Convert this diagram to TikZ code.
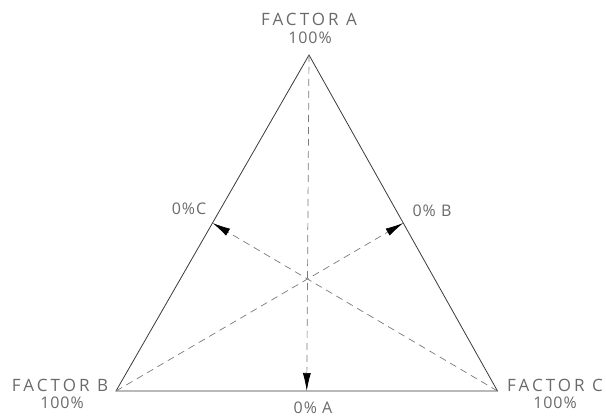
\documentclass[tikz,border=0pt]{standalone}
\usepackage{fontspec}
\setmainfont{Open Sans}
\usetikzlibrary{calc,arrows.meta}
\definecolor{txtgray}{HTML}{6A6A6A}
\definecolor{linegray}{HTML}{3A3A3A}
\definecolor{dashgray}{HTML}{7A7A7A}
\tikzset{
  side/.style={draw=linegray, line width=0.8pt},
  median/.style={draw=dashgray, line width=0.7pt, dash pattern=on 7pt off 5pt},
  medarrow/.style={median, -{Latex[length=18pt,width=8pt,fill=black,color=black]}},
  bigtxt/.style={text=txtgray, font=\fontsize{17}{18}\selectfont\addfontfeatures{LetterSpace=18}, inner sep=0pt},
  smalltxt/.style={text=txtgray, font=\fontsize{16}{17}\selectfont\addfontfeatures{LetterSpace=6}, inner sep=0pt},
}
\begin{document}
\begin{tikzpicture}[x=1pt,y=-1pt]
\useasboundingbox (0,0) rectangle (606,417);
\coordinate (A) at (309,55);
\coordinate (B) at (116,391);
\coordinate (C) at (497.5,391);
\coordinate (mBC) at ($(B)!0.5!(C)$);
\coordinate (mAB) at ($(A)!0.5!(B)$);
\coordinate (mAC) at ($(A)!0.5!(C)$);
\draw[side] (A) -- (B) -- (C) -- cycle;
\draw[medarrow] (A) -- (mBC);
\draw[medarrow] (C) -- (mAB);
\draw[medarrow] (B) -- (mAC);
\node[bigtxt] (fa) at (309,19) {FACTOR A};
\node[smalltxt] (fa1) at (310,38) {100\%};
\node[bigtxt] (fb) at (60,385) {FACTOR B};
\node[smalltxt] (fb1) at (62,403) {100\%};
\node[bigtxt] (fc) at (555,385) {FACTOR C};
\node[smalltxt] (fc1) at (555,403) {100\%};
\node[smalltxt, anchor=south] (la) at (313,413.5) {0\% A};
\node[smalltxt] (lc) at (189,209) {0\%C};
\node[smalltxt] (lb) at (432,211) {0\% B};
\end{tikzpicture}
\end{document}
